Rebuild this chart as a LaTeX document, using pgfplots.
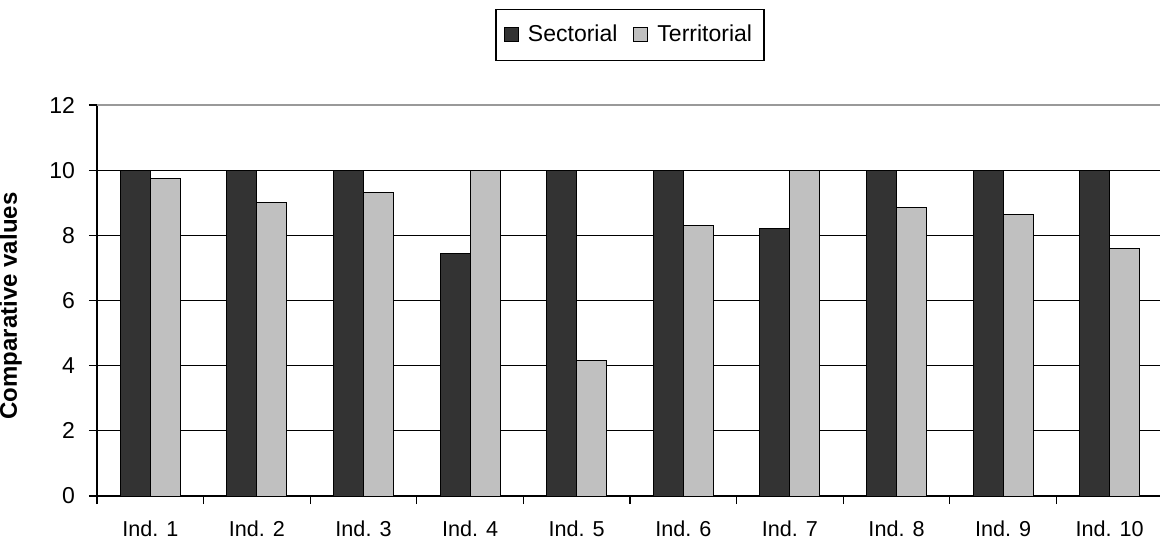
\documentclass[border=0pt]{standalone}
\usepackage{pgfplots}
\pgfplotsset{compat=1.18}
\usepackage{fontspec}
\setmainfont{Liberation Sans}
\definecolor{sect}{HTML}{333333}
\definecolor{terr}{HTML}{C0C0C0}
\begin{document}
\begin{tikzpicture}
\begin{axis}[
  scale only axis,
  width=533pt, height=195.5pt,
  xmin=-0.5, xmax=9.5, ymin=0, ymax=12,
  ybar=0pt, bar width=15pt,
  xtick={-0.5,0.5,...,9.5},
  x tick label as interval,
  xticklabels={Ind. 1,Ind. 2,Ind. 3,Ind. 4,Ind. 5,Ind. 6,Ind. 7,Ind. 8,Ind. 9,Ind. 10},
  ytick={0,2,4,6,8,10},
  extra y ticks={12},
  extra y tick style={grid style={color=black!40, line width=0.6pt}},
  ymajorgrids,
  grid style={black, line width=0.5pt},
  axis x line*=bottom, axis y line*=left,
  tick align=outside, major tick length=4pt,
  tick style={black, line width=0.6pt},
  axis line style={black, line width=0.6pt},
  yticklabel style={font=\fontsize{11.5}{13}\selectfont, xshift=-3.5pt},
  xticklabel style={font=\fontsize{10.8}{12}\selectfont, inner sep=0pt, yshift=-8.4pt},
  /pgf/number format/assume math mode=true,
  every axis y label/.style={at={(axis description cs:-0.081,0.486)}, rotate=90, anchor=center, font=\fontsize{12}{14}\selectfont\bfseries},
  ylabel={Comparative values},
  legend style={at={(axis description cs:0.5,1)}, anchor=center, yshift=35pt, draw=black, line width=0.6pt, legend columns=2, font=\fontsize{11.5}{13}\selectfont, inner xsep=4pt, inner ysep=6pt, /tikz/every even column/.append style={column sep=6pt}, /tikz/every odd column/.append style={column sep=2.5pt}},
  legend image code/.code={\draw[#1, draw=black, line width=0.5pt] (0pt,-3.5pt) rectangle (7pt,3.5pt);},
]
\addplot[fill=sect, draw=black, line width=0.5pt] coordinates {(0,10) (1,10) (2,10) (3,7.45) (4,10) (5,10) (6,8.2) (7,10) (8,10) (9,10)};
\addlegendentry{Sectorial}
\addplot[fill=terr, draw=black, line width=0.5pt] coordinates {(0,9.73) (1,9.0) (2,9.3) (3,10) (4,4.15) (5,8.3) (6,10) (7,8.85) (8,8.65) (9,7.6)};
\addlegendentry{Territorial}
\end{axis}
\pgfresetboundingbox
\path (-48.5pt,-22.5pt) rectangle (531.5pt,248pt);
\end{tikzpicture}
\end{document}
